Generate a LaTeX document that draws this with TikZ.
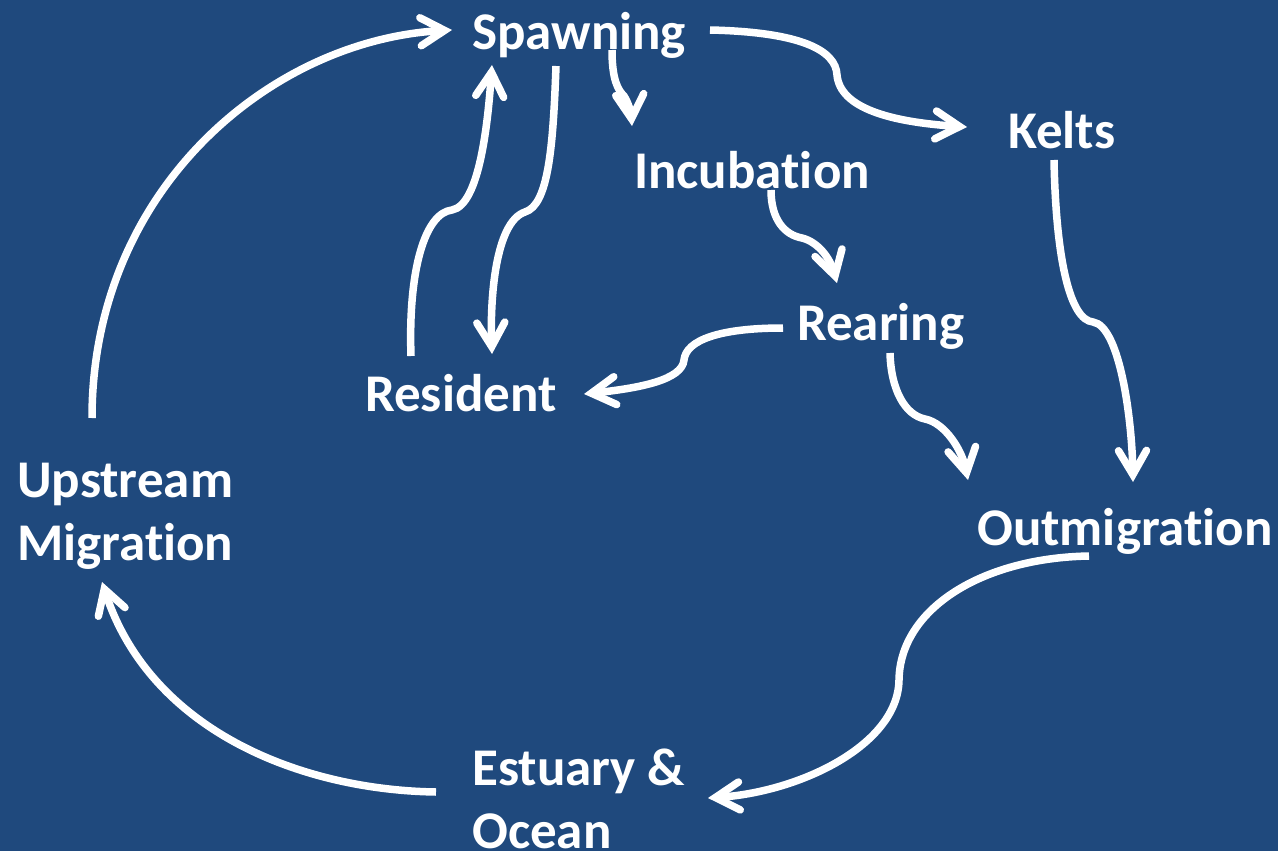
\documentclass[tikz,border=0pt]{standalone}
\usepackage{fontspec}
\setmainfont{Carlito}[Ligatures=NoCommon]
\usetikzlibrary{arrows.meta}
\definecolor{bgblue}{HTML}{1F497D}
\tikzset{
  label/.style={anchor=base west, inner sep=0pt, text=white, align=left,
    font=\bfseries\fontsize{53}{63}\selectfont},
  flow/.style={draw=white, line width=7.5pt, line cap=butt,
    -{Straight Barb[length=24pt, width=28pt, line cap=round, line join=miter]}}
}
\begin{document}
\begin{tikzpicture}[x=1pt, y=-1pt]
  \fill[bgblue] (0,0) rectangle (1278,851);
  \useasboundingbox (0,0) rectangle (1278,851);

  % stages of the life cycle (two-line labels sit on their last baseline)
  \node[label] (spawn) at (472,50) {Spawning};
  \node[label] (incub) at (634,188) {Incubation};
  \node[label] (kelts) at (1008,148) {Kelts};
  \node[label] (rear) at (797,340) {Rearing};
  \node[label] (resid) at (365,411) {Resident};
  \node[label] (upstr) at (17,560) {Upstream\\Migration};
  \node[label] (outm) at (977,545) {Outmigration};
  \node[label] (estu) at (472,848) {Estuary \&\\Ocean};

  % connector end points beside the labels
  \coordinate (up-out) at (92,418);
  \coordinate (sp-in1) at (452,30);
  \coordinate (sp-out1) at (710,30);
  \coordinate (ke-in) at (967,127);
  \coordinate (sp-out2) at (612,50);
  \coordinate (in-in) at (632,126);
  \coordinate (sp-out3) at (556,66);
  \coordinate (re-in1) at (492,354);
  \coordinate (re-out) at (411,356);
  \coordinate (sp-in2) at (492,65);
  \coordinate (in-out) at (771,190);
  \coordinate (ra-in) at (837,283);
  \coordinate (ra-out1) at (783,328);
  \coordinate (re-in2) at (584,394);
  \coordinate (ra-out2) at (890,353);
  \coordinate (om-in1) at (968,480);
  \coordinate (ke-out) at (1054,160);
  \coordinate (om-in2) at (1133,482);
  \coordinate (om-out) at (1089,556);
  \coordinate (es-in) at (708,798);
  \coordinate (es-out) at (436,792);
  \coordinate (up-in) at (102,582);

  % flows
  \draw[flow] (up-out) .. controls (92,190) and (270,40) .. (sp-in1);
  \draw[flow] (sp-out1) .. controls (800,32) and (836,50) .. (837,75)
                        .. controls (840,108) and (890,122) .. (ke-in);
  \draw[flow] (sp-out2) .. controls (612,80) and (618,90) .. (624,96)
                        .. controls (628,102) and (631,112) .. (in-in);
  \draw[flow] (sp-out3) .. controls (553,150) and (548,205) .. (525,212)
                        .. controls (495,222) and (490,300) .. (re-in1);
  \draw[flow] (re-out) .. controls (408,270) and (425,213) .. (452,210)
                       .. controls (480,205) and (488,120) .. (sp-in2);
  \draw[flow] (in-out) .. controls (771,220) and (785,235) .. (802,238)
                       .. controls (818,242) and (830,258) .. (ra-in);
  \draw[flow] (ra-out1) .. controls (720,328) and (686,340) .. (684,360)
                        .. controls (682,380) and (640,388) .. (re-in2);
  \draw[flow] (ra-out2) .. controls (891,390) and (905,415) .. (925,419)
                        .. controls (945,423) and (962,450) .. (om-in1);
  \draw[flow] (ke-out) .. controls (1056,260) and (1070,320) .. (1093,322)
                       .. controls (1120,326) and (1132,420) .. (om-in2);
  \draw[flow] (om-out) .. controls (980,558) and (900,610) .. (899,680)
                       .. controls (898,745) and (800,792) .. (es-in);
  \draw[flow] (es-out) .. controls (300,790) and (150,730) .. (up-in);
\end{tikzpicture}
\end{document}
